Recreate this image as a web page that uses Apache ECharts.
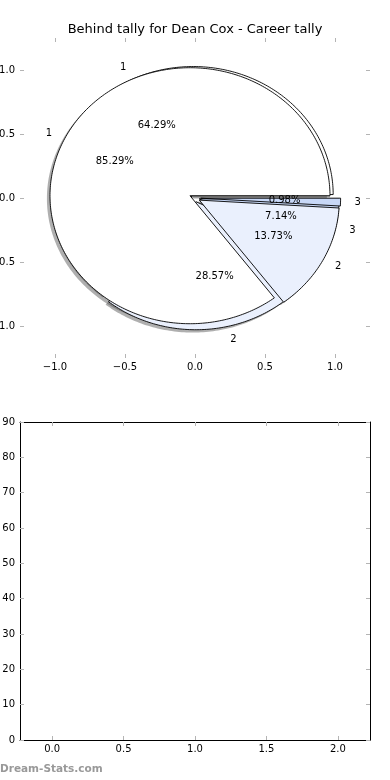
<!DOCTYPE html>
<html>
<head>
<meta charset="utf-8">
<script src="https://cdn.jsdelivr.net/npm/echarts@6/dist/echarts.min.js"></script>
<style>
html,body{margin:0;padding:0;background:#fff;}
#chart{width:390px;height:780px;}
</style>
</head>
<body>
<div id="chart"></div>
<script>
// ---- data ----
const titleText = 'Behind tally for Dean Cox - Career tally';
const sliceLabels = ['1', '2', '3'];
const pieAValues = [9, 4, 1];        // 64.29%, 28.57%, 7.14%
const pieBValues = [87, 14, 1];      // 85.29%, 13.73%, 0.98%
const pieAExplode = [0.03, 0.03, 0.03];
const pieBExplode = [0.04, 0.035, 0.04];
const sliceColors = ['#ffffff', '#eaf0fd', '#c8d8f7'];
const pieTicks = [-1, -0.5, 0, 0.5, 1];
const lowerXTicks = [0, 0.5, 1, 1.5, 2];
const lowerYMax = 90;
const watermark = 'Dream-Stats.com';

// ---- helpers ----
const FONT = 'DejaVu Sans';
const tickColor = '#b4b4b4';
const shadowShift = [-0.022, -0.022];

function wedge(values, explode, i) {
  const total = values.reduce((a, b) => a + b, 0);
  let cum = 0;
  for (let k = 0; k < i; k++) cum += values[k];
  const t1 = 360 * cum / total, t2 = 360 * (cum + values[i]) / total;
  const mid = (t1 + t2) / 2 * Math.PI / 180;
  return {
    t1, t2, mid,
    cx: explode[i] * Math.cos(mid),
    cy: explode[i] * Math.sin(mid),
    pct: (100 * values[i] / total).toFixed(2) + '%'
  };
}

function wedgePoints(api, w, dx, dy) {
  const pts = [api.coord([w.cx + dx, w.cy + dy])];
  const n = Math.max(4, Math.ceil((w.t2 - w.t1) / 1));
  for (let k = 0; k <= n; k++) {
    const a = (w.t1 + (w.t2 - w.t1) * k / n) * Math.PI / 180;
    pts.push(api.coord([w.cx + dx + Math.cos(a), w.cy + dy + Math.sin(a)]));
  }
  return pts;
}

function wedgeSeries(values, explode, z) {
  return {
    type: 'custom', xAxisIndex: 0, yAxisIndex: 0, z: z, silent: true,
    data: values.map((v, i) => [i]),
    renderItem: function (params, api) {
      const i = api.value(0);
      const w = wedge(values, explode, i);
      return {
        type: 'polygon',
        shape: { points: wedgePoints(api, w, 0, 0) },
        style: { fill: sliceColors[i], stroke: '#000', lineWidth: 0.9 }
      };
    }
  };
}

function shadowSeries(values, explode, z) {
  return {
    type: 'custom', xAxisIndex: 0, yAxisIndex: 0, z: z, silent: true,
    data: values.map((v, i) => [i]),
    renderItem: function (params, api) {
      const i = api.value(0);
      const w = wedge(values, explode, i);
      return {
        type: 'polygon',
        shape: { points: wedgePoints(api, w, shadowShift[0], shadowShift[1]) },
        style: { fill: 'rgba(77,77,77,0.45)' }
      };
    }
  };
}

function labelSeries(values, explode, z) {
  return {
    type: 'custom', xAxisIndex: 0, yAxisIndex: 0, z: z, silent: true,
    data: values.map((v, i) => [i]),
    renderItem: function (params, api) {
      const i = api.value(0);
      const w = wedge(values, explode, i);
      const c = Math.cos(w.mid), s = Math.sin(w.mid);
      const lp = api.coord([w.cx + 1.1 * c, w.cy + 1.1 * s]);
      const pp = api.coord([w.cx + 0.6 * c, w.cy + 0.6 * s]);
      return {
        type: 'group',
        children: [
          { type: 'text', style: { text: sliceLabels[i], x: lp[0], y: lp[1], fill: '#000',
              font: '10px "' + FONT + '"', align: (w.cx + 1.1 * c) > 0 ? 'left' : 'right', verticalAlign: 'middle' } },
          { type: 'text', style: { text: w.pct, x: pp[0], y: pp[1], fill: '#000',
              font: '10px "' + FONT + '"', align: 'center', verticalAlign: 'middle' } }
        ]
      };
    }
  };
}

function fmt1(v) {
  return (v < 0 ? '\u2212' : '') + Math.abs(v).toFixed(1);
}

const labelStyle = { fontFamily: FONT, fontSize: 10, color: '#000' };

function tick(custom) {
  const t = { show: true, inside: true, length: 4, lineStyle: { color: tickColor, width: 1 } };
  if (custom) t.customValues = custom;
  return t;
}

function axisBase(extra) {
  return Object.assign({
    type: 'value',
    splitLine: { show: false },
    axisLine: { show: false, onZero: false },
    axisTick: tick(null),
    axisLabel: Object.assign({ show: false }, labelStyle)
  }, extra);
}

const frameLine = { show: true, onZero: false, lineStyle: { color: '#000', width: 1 } };

const chart = echarts.init(document.getElementById('chart'), null, { renderer: 'canvas' });

const option = {
  animation: false,
  backgroundColor: '#fff',
  title: {
    text: titleText, left: 'center', top: 23, padding: 0,
    textStyle: { fontFamily: FONT, fontSize: 13, fontWeight: 'normal', color: '#000' }
  },
  grid: [
    { left: 20, top: 38, width: 350, height: 320, containLabel: false, outerBoundsMode: 'none' },
    { left: 20, top: 422, width: 350, height: 318, containLabel: false, outerBoundsMode: 'none' }
  ],
  xAxis: [
    axisBase({ gridIndex: 0, min: -1.25, max: 1.25, position: 'bottom',
      axisTick: tick(pieTicks),
      axisLabel: Object.assign({ show: true, customValues: pieTicks, formatter: fmt1, margin: 4 }, labelStyle) }),
    axisBase({ gridIndex: 0, min: -1.25, max: 1.25, position: 'top', axisTick: tick(pieTicks) }),
    axisBase({ gridIndex: 1, min: -0.225, max: 2.225, position: 'bottom',
      axisLine: frameLine, axisTick: tick(lowerXTicks),
      axisLabel: Object.assign({ show: true, customValues: lowerXTicks, formatter: fmt1, margin: 4 }, labelStyle) }),
    axisBase({ gridIndex: 1, min: -0.225, max: 2.225, position: 'top',
      axisLine: frameLine, axisTick: tick(lowerXTicks) })
  ],
  yAxis: [
    axisBase({ gridIndex: 0, min: -1.25, max: 1.25, position: 'left',
      axisTick: tick(pieTicks),
      axisLabel: Object.assign({ show: true, customValues: pieTicks, formatter: fmt1, margin: 5 }, labelStyle) }),
    axisBase({ gridIndex: 0, min: -1.25, max: 1.25, position: 'right', axisTick: tick(pieTicks) }),
    axisBase({ gridIndex: 1, min: 0, max: lowerYMax, interval: 10, position: 'left',
      axisLine: frameLine,
      axisLabel: Object.assign({ show: true, margin: 5 }, labelStyle) }),
    axisBase({ gridIndex: 1, min: 0, max: lowerYMax, interval: 10, position: 'right',
      axisLine: frameLine })
  ],
  graphic: [{
    type: 'text', left: 0, top: 764,
    style: { text: watermark, fill: '#999', font: 'bold 10.5px "' + FONT + '"' }
  }],
  series: [
    shadowSeries(pieAValues, pieAExplode, 1),
    shadowSeries(pieBValues, pieBExplode, 1),
    wedgeSeries(pieAValues, pieAExplode, 2),
    wedgeSeries(pieBValues, pieBExplode, 3),
    labelSeries(pieAValues, pieAExplode, 4),
    labelSeries(pieBValues, pieBExplode, 4)
  ]
};
chart.setOption(option);
</script>
</body>
</html>
